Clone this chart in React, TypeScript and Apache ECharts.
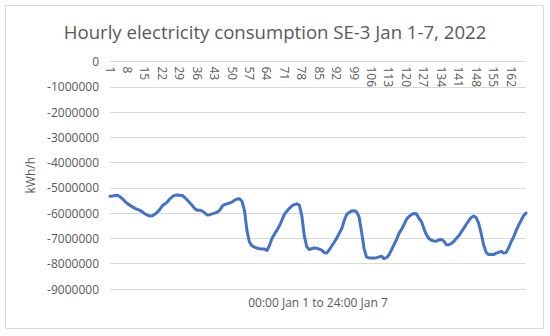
import React, { useEffect, useRef } from "react";
import * as echarts from "echarts";

const titleText = "Hourly electricity consumption SE-3 Jan 1-7, 2022";
const yAxisName = "kWh/h";
const xAxisName = "00:00 Jan 1 to 24:00 Jan 7";

const hours: string[] = Array.from({ length: 168 }, (_, i) => String(i + 1));

const consumption: number[] = [
  -5330000, -5320000, -5300000, -5290000, -5350000, -5430000, -5530000, -5620000,
  -5690000, -5750000, -5810000, -5850000, -5890000, -5950000, -6020000, -6080000,
  -6110000, -6100000, -6050000, -5960000, -5850000, -5710000, -5640000, -5560000,
  -5440000, -5350000, -5290000, -5280000, -5290000, -5300000, -5380000, -5480000,
  -5590000, -5690000, -5820000, -5880000, -5880000, -5910000, -5990000, -6070000,
  -6060000, -6030000, -6000000, -5960000, -5890000, -5730000, -5660000, -5630000,
  -5600000, -5560000, -5490000, -5440000, -5430000, -5530000, -5900000, -6700000,
  -7150000, -7290000, -7340000, -7380000, -7410000, -7420000, -7420000, -7480000,
  -7280000, -7000000, -6830000, -6680000, -6500000, -6280000, -6050000, -5920000,
  -5810000, -5720000, -5660000, -5630000, -5680000, -6100000, -6900000, -7330000,
  -7440000, -7400000, -7380000, -7390000, -7420000, -7460000, -7560000, -7580000,
  -7450000, -7300000, -7150000, -6990000, -6800000, -6620000, -6300000, -6050000,
  -5970000, -5910000, -5900000, -5950000, -6150000, -6750000, -7400000, -7740000,
  -7770000, -7770000, -7770000, -7760000, -7730000, -7700000, -7800000, -7760000,
  -7650000, -7450000, -7250000, -7050000, -6800000, -6650000, -6460000, -6250000,
  -6130000, -6060000, -6010000, -6020000, -6200000, -6330000, -6600000, -6850000,
  -7000000, -7070000, -7100000, -7110000, -7060000, -7040000, -7100000, -7250000,
  -7250000, -7200000, -7120000, -7000000, -6900000, -6750000, -6600000, -6450000,
  -6300000, -6170000, -6110000, -6180000, -6400000, -6800000, -7250000, -7550000,
  -7640000, -7640000, -7640000, -7580000, -7550000, -7510000, -7580000, -7560000,
  -7380000, -7140000, -6950000, -6700000, -6480000, -6300000, -6100000, -6000000,
];

const FONT = "'Open Sans', 'Noto Sans', sans-serif";
const GREY = "#595959";

export default function App() {
  const ref = useRef<HTMLDivElement>(null);
  useEffect(() => {
    if (!ref.current) return;
    const chart = echarts.init(ref.current, undefined, { renderer: "svg" });
    chart.setOption({
      animation: false,
      backgroundColor: "#ffffff",
      textStyle: { fontFamily: FONT },
      title: {
        text: titleText,
        left: "center",
        top: 17,
        textStyle: { fontFamily: FONT, fontSize: 18.6, fontWeight: "normal", color: GREY },
      },
      grid: { left: 110, right: 24, top: 61.5, bottom: 47, containLabel: false },
      xAxis: {
        type: "category",
        position: "top",
        data: hours,
        boundaryGap: false,
        axisLine: { onZero: false, lineStyle: { color: "#d9d9d9" } },
        axisTick: { show: false },
        axisLabel: {
          interval: 6,
          rotate: 90,
          inside: true,
          fontSize: 12,
          color: GREY,
          fontFamily: FONT,
          margin: 5,
        },
        splitLine: { show: false },
      },
      yAxis: {
        type: "value",
        min: -9000000,
        max: 0,
        interval: 1000000,
        name: yAxisName,
        nameLocation: "middle",
        nameGap: 58,
        nameRotate: 90,
        nameTextStyle: { fontSize: 12, color: GREY, fontFamily: FONT },
        axisLine: { show: false },
        axisTick: { show: false },
        axisLabel: {
          fontSize: 12,
          color: GREY,
          fontFamily: FONT,
          margin: 11,
          formatter: (v: number) => String(v),
        },
        splitLine: { lineStyle: { color: "#d9d9d9", width: 1 } },
      },
      graphic: [
        {
          type: "rect",
          shape: { x: 5.5, y: 5.5, width: 538, height: 323 },
          style: { fill: "none", stroke: "#d9d9d9", lineWidth: 1 },
          silent: true,
        },
        {
          type: "text",
          x: 318,
          y: 302,
          style: {
            text: xAxisName,
            fill: GREY,
            fontSize: 12,
            fontFamily: FONT,
            align: "center",
            verticalAlign: "middle",
          },
        },
      ],
      series: [
        {
          type: "line",
          data: consumption,
          showSymbol: false,
          smooth: false,
          lineStyle: { color: "#4472C4", width: 3, cap: "round", join: "round" },
          itemStyle: { color: "#4472C4" },
        },
      ],
    });
    return () => chart.dispose();
  }, []);
  return (
    <div
      ref={ref}
      style={{ position: "absolute", left: 0, top: 0, width: 550, height: 336 }}
    />
  );
}
